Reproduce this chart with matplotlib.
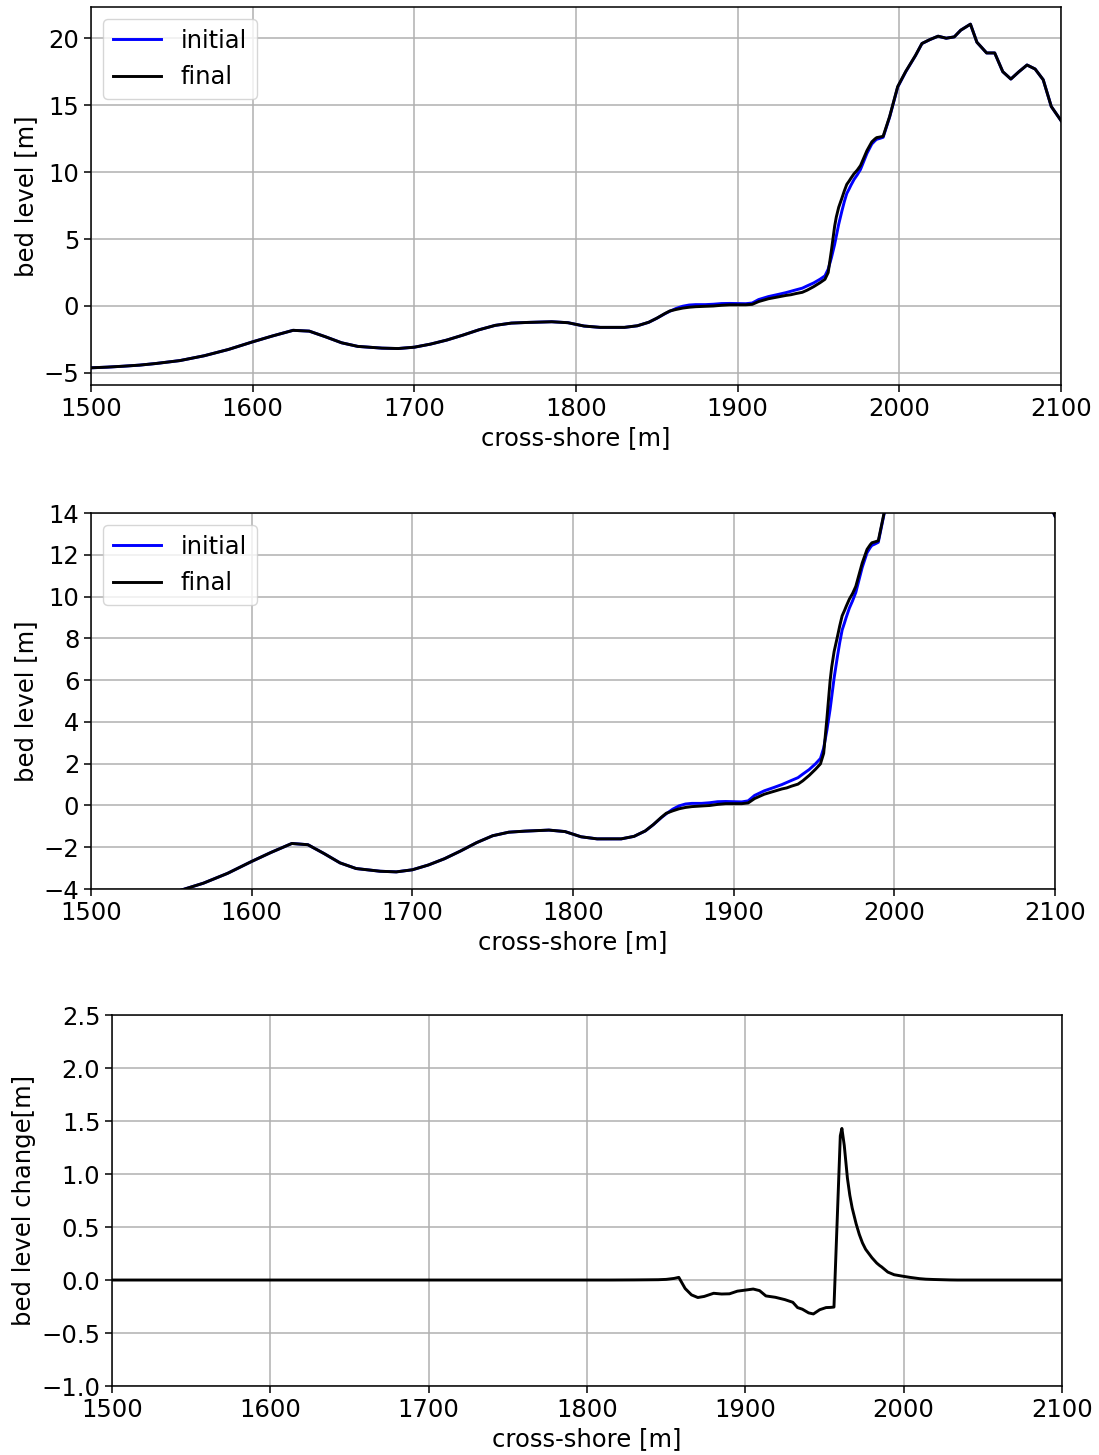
import matplotlib
matplotlib.use("Agg")
import matplotlib.pyplot as plt
from matplotlib.ticker import MultipleLocator
import numpy as np

# cross-shore positions [m]
x = [1500, 1510, 1520, 1530, 1540, 1555, 1570, 1585, 1600, 1612,
     1625, 1635, 1645, 1655, 1665, 1680, 1690, 1700, 1710, 1720,
     1730, 1740, 1750, 1760, 1770, 1785, 1795, 1805, 1815, 1830,
     1838, 1845, 1850, 1855, 1858, 1862, 1866, 1870, 1874, 1880,
     1885, 1890, 1895, 1900, 1905, 1909, 1913, 1919, 1925, 1930,
     1933, 1936, 1940, 1943, 1947, 1951, 1954, 1956, 1958, 1960,
     1961, 1962.5, 1964.5, 1966, 1967.5, 1969, 1970, 1972, 1974, 1976,
     1978, 1980, 1983, 1985, 1986, 1988, 1990, 1994, 1999, 2004,
     2010, 2014, 2019, 2024, 2029, 2034, 2038, 2044, 2048, 2054,
     2059, 2064, 2069, 2074, 2079, 2084, 2089, 2094, 2100]

# initial bed level [m]
zb_initial = [-4.62, -4.57, -4.50, -4.42, -4.30, -4.08, -3.72, -3.25, -2.68, -2.25,
              -1.82, -1.88, -2.30, -2.75, -3.02, -3.15, -3.18, -3.08, -2.85, -2.55,
              -2.18, -1.78, -1.45, -1.28, -1.23, -1.18, -1.25, -1.50, -1.60, -1.60,
              -1.48, -1.22, -0.92, -0.58, -0.40, -0.18, -0.02, 0.07, 0.10, 0.10,
              0.13, 0.18, 0.19, 0.18, 0.17, 0.22, 0.48, 0.70, 0.86, 1.00,
              1.10, 1.20, 1.33, 1.50, 1.72, 2.00, 2.25, 2.75, 3.60, 4.60,
              5.20, 6.10, 7.10, 7.80, 8.40, 8.75, 9.00, 9.45, 9.80, 10.20,
              10.80, 11.40, 12.10, 12.35, 12.45, 12.52, 12.60, 14.10, 16.35, 17.50,
              18.70, 19.60, 19.90, 20.15, 20.00, 20.10, 20.60, 21.05, 19.70, 18.90,
              18.90, 17.50, 16.95, 17.50, 18.00, 17.70, 16.90, 14.90, 13.85]

# bed level change final - initial [m]
dz = [0, 0, 0, 0, 0, 0, 0, 0, 0, 0,
      0, 0, 0, 0, 0, 0, 0, 0, 0, 0,
      0, 0, 0, 0, 0, 0, 0, 0, 0, 0.001,
      0.002, 0.003, 0.006, 0.015, 0.025, -0.08, -0.14, -0.165, -0.155, -0.125,
      -0.132, -0.13, -0.105, -0.095, -0.085, -0.10, -0.15, -0.163, -0.185, -0.21,
      -0.26, -0.275, -0.31, -0.32, -0.28, -0.26, -0.258, -0.255, 0.55, 1.36,
      1.43, 1.27, 0.96, 0.80, 0.68, 0.59, 0.53, 0.43, 0.35, 0.29,
      0.25, 0.21, 0.16, 0.135, 0.125, 0.10, 0.075, 0.05, 0.037, 0.025,
      0.013, 0.008, 0.005, 0.003, 0.001, 0, 0, 0, 0, 0,
      0, 0, 0, 0, 0, 0, 0, 0, 0]

x = np.array(x)
zb_initial = np.array(zb_initial)
dz = np.array(dz)
zb_final = zb_initial + dz

plt.rcParams.update({
    "font.size": 17.5,
    "axes.linewidth": 1.1,
    "grid.linewidth": 1.1,
    "xtick.major.size": 4.9,
    "ytick.major.size": 4.9,
    "xtick.major.width": 1.1,
    "ytick.major.width": 1.1,
})

fig = plt.figure(figsize=(10.99, 14.55), dpi=100)

# full profile
ax1 = fig.add_axes([0.0828, 0.7354, 0.8826, 0.2598])
ax1.plot(x, zb_initial, color="b", lw=2.1, label="initial")
ax1.plot(x, zb_final, color="k", lw=2.1, label="final")
ax1.set_xlim(1500, 2100)
ax1.set_xlabel("cross-shore [m]")
ax1.set_ylabel("bed level [m]")
ax1.grid(True)
ax1.legend(loc="upper left")

# zoom on the lower part
ax2 = fig.add_axes([0.0828, 0.389, 0.8772, 0.2584])
ax2.plot(x, zb_initial, color="b", lw=2.1, label="initial")
ax2.plot(x, zb_final, color="k", lw=2.1, label="final")
ax2.set_xlim(1500, 2100)
ax2.set_ylim(-4, 14)
ax2.yaxis.set_major_locator(MultipleLocator(2))
ax2.set_xlabel("cross-shore [m]")
ax2.set_ylabel("bed level [m]")
ax2.grid(True)
ax2.legend(loc="upper left")

# erosion / sedimentation
ax3 = fig.add_axes([0.1019, 0.0474, 0.8644, 0.255])
ax3.plot(x, dz, color="k", lw=2.1)
ax3.set_xlim(1500, 2100)
ax3.set_ylim(-1, 2.5)
ax3.set_xlabel("cross-shore [m]")
ax3.set_ylabel("bed level change[m]")
ax3.grid(True)

fig.savefig("out.png", dpi=100)
